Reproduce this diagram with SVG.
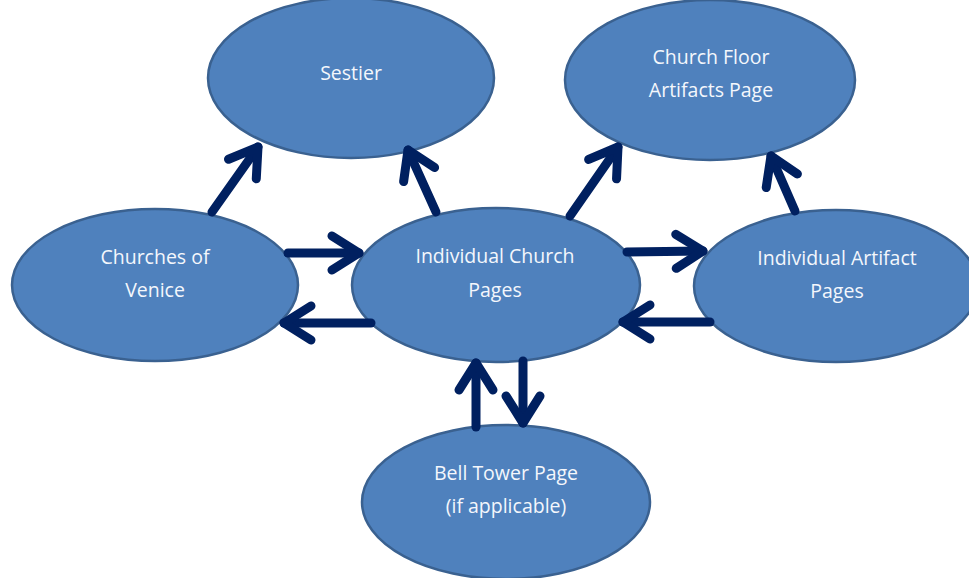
<svg xmlns="http://www.w3.org/2000/svg" width="969" height="578" viewBox="0 0 969 578">
<defs>
<style>
.node ellipse{fill:#4f81bd;stroke:#3a6190;stroke-width:2.5}
.node text{font-family:"Open Sans","Liberation Sans",sans-serif;font-size:19.5px;fill:#f4f7fc;text-anchor:middle}
.conn path{fill:none;stroke:#002060;stroke-width:9;stroke-linecap:round;stroke-linejoin:round}
</style>
<marker id="ah" markerUnits="userSpaceOnUse" viewBox="-40 -30 50 60" refX="0" refY="0" markerWidth="50" markerHeight="60" orient="auto">
<path d="M-27,-17 L0,0 L-27,17" fill="none" stroke="#002060" stroke-width="9" stroke-linecap="round" stroke-linejoin="round"/>
</marker>
</defs>
<rect width="969" height="578" fill="#ffffff"/>
<g id="sestier" class="node"><ellipse cx="351" cy="78" rx="143" ry="80"/><text x="351" y="80">Sestier</text></g>
<g id="church-floor" class="node"><ellipse cx="710" cy="80" rx="145" ry="80"/><text x="711" y="64">Church Floor</text><text x="711" y="97">Artifacts Page</text></g>
<g id="churches-of-venice" class="node"><ellipse cx="155" cy="285" rx="143" ry="76"/><text x="155" y="264">Churches of</text><text x="155" y="297">Venice</text></g>
<g id="individual-church" class="node"><ellipse cx="496" cy="285" rx="144" ry="77"/><text x="495" y="263">Individual Church</text><text x="495" y="297">Pages</text></g>
<g id="individual-artifact" class="node"><ellipse cx="836" cy="286" rx="142" ry="76"/><text x="837" y="265">Individual Artifact</text><text x="837" y="298">Pages</text></g>
<g id="bell-tower" class="node"><ellipse cx="506" cy="502" rx="144" ry="77"/><text x="506" y="480">Bell Tower Page</text><text x="506" y="513">(if applicable)</text></g>
<g id="connectors" class="conn">
<path d="M212,212 L258,147" marker-end="url(#ah)"/>
<path d="M436,212 L408,150" marker-end="url(#ah)"/>
<path d="M288,253 L359,253" marker-end="url(#ah)"/>
<path d="M371,323 L284,323" marker-end="url(#ah)"/>
<path d="M570,216 L618,147" marker-end="url(#ah)"/>
<path d="M795,211 L771,156" marker-end="url(#ah)"/>
<path d="M627,252 L703,251" marker-end="url(#ah)"/>
<path d="M710,322 L623,322" marker-end="url(#ah)"/>
<path d="M476,427 L476,363" marker-end="url(#ah)"/>
<path d="M523,361 L523,423" marker-end="url(#ah)"/>
</g>
</svg>
